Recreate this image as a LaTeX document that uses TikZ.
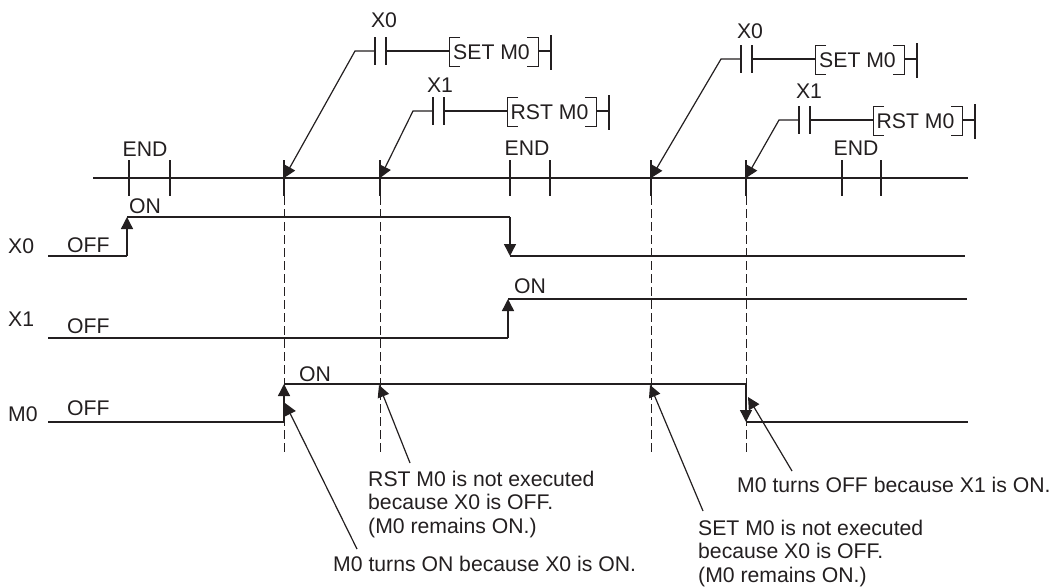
\documentclass[tikz,border=0pt]{standalone}
\usepackage{fontspec}
\setmainfont{Liberation Sans}
\usetikzlibrary{arrows.meta,positioning,calc}
\definecolor{ink}{HTML}{231F20}
\begin{document}
\begin{tikzpicture}[x=1pt,y=-1pt,
 txt/.style={inner sep=0pt,text=ink,anchor=base west,
 font=\fontsize{21.2}{23.5}\selectfont},
 mid/.style={txt,anchor=base},
 note/.style={txt,align=left},
 bus/.style={draw=ink,line width=2pt},
 thin/.style={draw=ink,line width=1.5pt},
 wave/.style={draw=ink,line width=1.4pt},
 hi/.style={draw=ink,line width=2pt},
 brk/.style={draw=ink,line width=1pt},
 cut/.style={draw=ink,line width=1pt,dash pattern=on 9pt off 4pt},
 tip/.style={-{Triangle[length=12pt,width=12pt]}},
 arr/.style={wave,tip},
 lead/.style={draw=ink,line width=1.2pt,tip}]
 \useasboundingbox (0,0) rectangle (1051,587);
 % time axis
 \coordinate (busl) at (93,178);
 \coordinate (busr) at (968,178);
 \draw[bus] (busl) -- (busr);
 \foreach \name/\x in {e1/129,e2/170,s1/284,r1/380,e3/510,e4/550,s2/651,r2/746,e5/842,e6/881}{
  \coordinate (\name) at (\x,178);
  \draw[bus] (\x,160) -- (\x,196);
 }
 \foreach \name in {s1,r1,s2,r2}
  \draw[cut] ($(\name)+(0,18)$) -- ($(\name)+(0,275)$);
 \node[mid] (end1) at (145,156) {END};
 \node[mid] (end2) at (527,155) {END};
 \node[mid] (end3) at (856,155) {END};
 % ladder rungs
 \foreach \n/\x/\y/\lx/\ly/\lab/\cmd/\t in {
  a/375/51/384/27/X0/SET M0/s1,
  b/433/111/440/92/X1/RST M0/r1,
  c/741/59/750/38/X0/SET M0/s2,
  d/799/120/809/98/X1/RST M0/r2}{
  \node[mid] (lab\n) at (\lx,\ly) {\lab};
  \node[mid] (cmd\n) at (\x+116.5,\y+8) {\cmd};
  \coordinate (elbow\n) at (\x-20,\y);
  \coordinate (cl\n) at (\x,\y);
  \coordinate (cr\n) at (\x+11,\y);
  \coordinate (bl\n) at (\x+74,\y);
  \coordinate (br\n) at (\x+163,\y);
  \coordinate (rail\n) at (\x+176,\y);
  \draw[thin] (cl\n)+(0,-14) -- +(0,14);
  \draw[thin] (cr\n)+(0,-14) -- +(0,14);
  \draw[thin] (cr\n) -- (bl\n);
  \draw[brk] ($(bl\n)+(11,-14)$) -- ++(-11,0) -- ++(0,29) -- ++(11,0);
  \draw[brk] ($(br\n)+(-11,-14)$) -- ++(11,0) -- ++(0,29) -- ++(-11,0);
  \draw[thin] (br\n) -- (rail\n);
  \draw[thin] (rail\n)+(0,-16) -- +(0,19);
  \draw[lead] (cl\n) -- (elbow\n) -- (\t);
 }
 % X0
 \node[txt] (x0) at (8,253) {X0};
 \node[txt] (x0off) at (67,252) {OFF};
 \node[txt] (x0on) at (129,213) {ON};
 \coordinate (x0a) at (48,256);
 \coordinate (x0b) at (127,256);
 \coordinate (x0c) at (127,217);
 \coordinate (x0d) at (510,217);
 \coordinate (x0e) at (510,256);
 \coordinate (x0f) at (965,256);
 \draw[wave] (x0a) -- (x0b);
 \draw[arr] (x0b) -- (x0c);
 \draw[wave] (x0c) -- (x0d);
 \draw[arr] (x0d) -- (x0e);
 \draw[hi] (x0e) -- (x0f);
 % X1
 \node[txt] (x1) at (8,326) {X1};
 \node[txt] (x1off) at (67,333) {OFF};
 \node[txt] (x1on) at (514,293) {ON};
 \coordinate (x1a) at (48,338);
 \coordinate (x1b) at (508,338);
 \coordinate (x1c) at (508,299);
 \coordinate (x1d) at (967,299);
 \draw[wave] (x1a) -- (x1b);
 \draw[arr] (x1b) -- (x1c);
 \draw[hi] (x1c) -- (x1d);
 % M0
 \node[txt] (m0) at (8,421) {M0};
 \node[txt] (m0off) at (67,415) {OFF};
 \node[txt] (m0on) at (299,381) {ON};
 \coordinate (m0a) at (48,422);
 \coordinate (m0b) at (284,422);
 \coordinate (m0c) at (284,384);
 \coordinate (m0d) at (746,384);
 \coordinate (m0e) at (746,422);
 \coordinate (m0f) at (968,422);
 \draw[wave] (m0a) -- (m0b);
 \draw[arr] (m0b) -- (m0c);
 \draw[wave] (m0c) -- (m0d);
 \draw[arr] (m0d) -- (m0e);
 \draw[hi] (m0e) -- (m0f);
 % notes
 \node[note] (rstnote) at (368,533) {RST M0 is not executed\\because X0 is OFF.\\(M0 remains ON.)};
 \node[txt] (onnote) at (333,571) {M0 turns ON because X0 is ON.};
 \node[note] (setnote) at (698,582) {SET M0 is not executed\\because X0 is OFF.\\(M0 remains ON.)};
 \node[txt] (offnote) at (737,492) {M0 turns OFF because X1 is ON.};
 \coordinate (rsttail) at (410,463);
 \coordinate (rsttip) at (379,385);
 \coordinate (ontail) at (357,549);
 \coordinate (ontip) at (285,403);
 \coordinate (settail) at (703,511);
 \coordinate (settip) at (650,385);
 \coordinate (offtail) at (792,471);
 \coordinate (offtip) at (748,397);
 \draw[lead] (rsttail) -- (rsttip);
 \draw[lead] (ontail) -- (ontip);
 \draw[lead] (settail) -- (settip);
 \draw[lead] (offtail) -- (offtip);
\end{tikzpicture}
\end{document}
